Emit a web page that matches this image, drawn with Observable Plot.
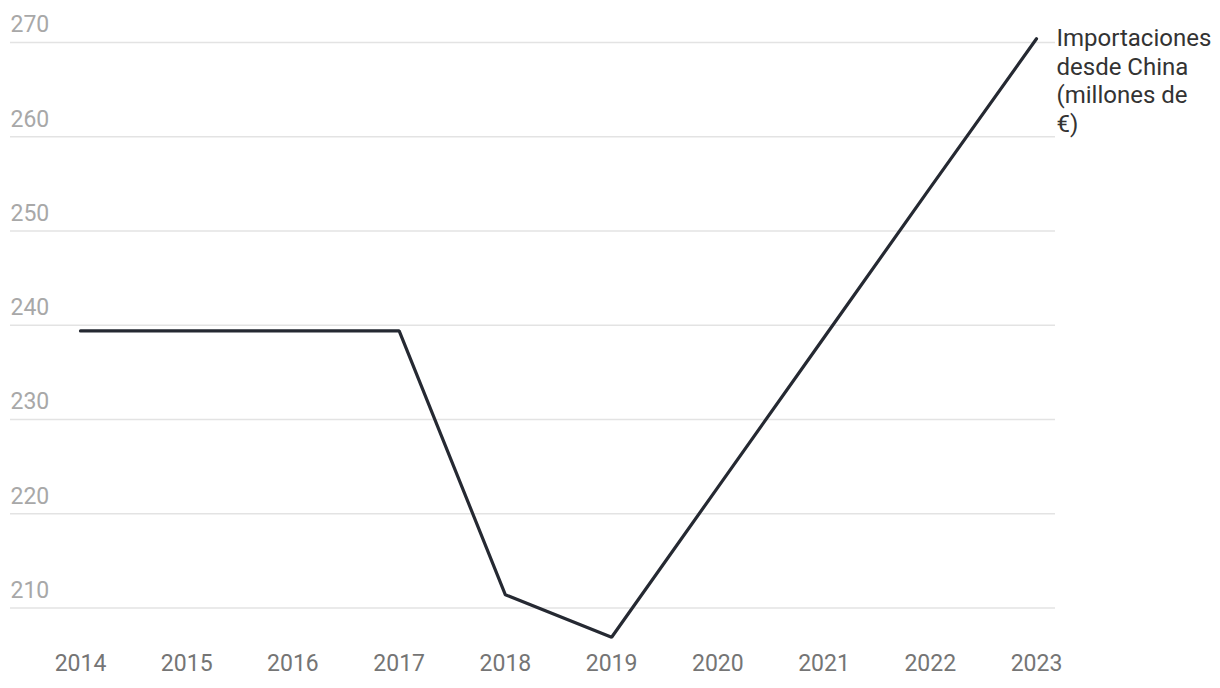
<!DOCTYPE html>
<html>
<head>
<meta charset="utf-8">
<script src="https://cdn.jsdelivr.net/npm/d3@7"></script>
<script src="https://cdn.jsdelivr.net/npm/@observablehq/plot@0.6"></script>
<style>
  html, body { margin: 0; padding: 0; background: #fff; }
  #chart svg { display: block; font-family: Roboto, sans-serif; }
</style>
</head>
<body>
<div id="chart"></div>
<script>
const years = [2014, 2015, 2016, 2017, 2018, 2019, 2020, 2021, 2022, 2023];
const imports = [239.4, 239.4, 239.4, 239.4, 211.4, 206.9, 222.8, 238.7, 254.6, 270.4];
const yTicks = [210, 220, 230, 240, 250, 260, 270];
const seriesLabel = "Importaciones\ndesde China\n(millones de\n€)";

const data = years.map((y, i) => ({year: y, value: imports[i]}));
const last = data[data.length - 1];

const chart = Plot.plot({
  width: 1220,
  height: 688,
  marginLeft: 80,
  marginRight: 184,
  marginTop: 42,
  marginBottom: 80.5,
  style: {fontFamily: "Roboto, sans-serif", fontSize: "23px", background: "#fff"},
  x: {domain: [2014, 2023], ticks: years, tickFormat: d => String(d)},
  y: {domain: [210, 270], ticks: yTicks},
  marks: [
    Plot.ruleY(yTicks, {stroke: "#e3e3e3", strokeWidth: 1.5, insetLeft: -70, insetRight: -19}),
    Plot.axisY({ticks: yTicks, tickSize: 0, tickPadding: 0, textAnchor: "start", dx: -70, dy: -17.5, fill: "#a8a8a8", fontSize: 23, label: null}),
    Plot.axisX({ticks: years, tickSize: 0, tickPadding: 46.5, fill: "#757575", fontSize: 23, label: null, tickFormat: d => String(d)}),
    Plot.line(data, {x: "year", y: "value", stroke: "#252932", strokeWidth: 3.2, strokeLinejoin: "miter"}),
    Plot.text([last], {x: "year", y: "value", text: () => seriesLabel, textAnchor: "start", lineAnchor: "top", dx: 20, dy: -13, lineHeight: 1.19, fill: "#333", fontSize: 24})
  ]
});
document.getElementById("chart").append(chart);
</script>
</body>
</html>
